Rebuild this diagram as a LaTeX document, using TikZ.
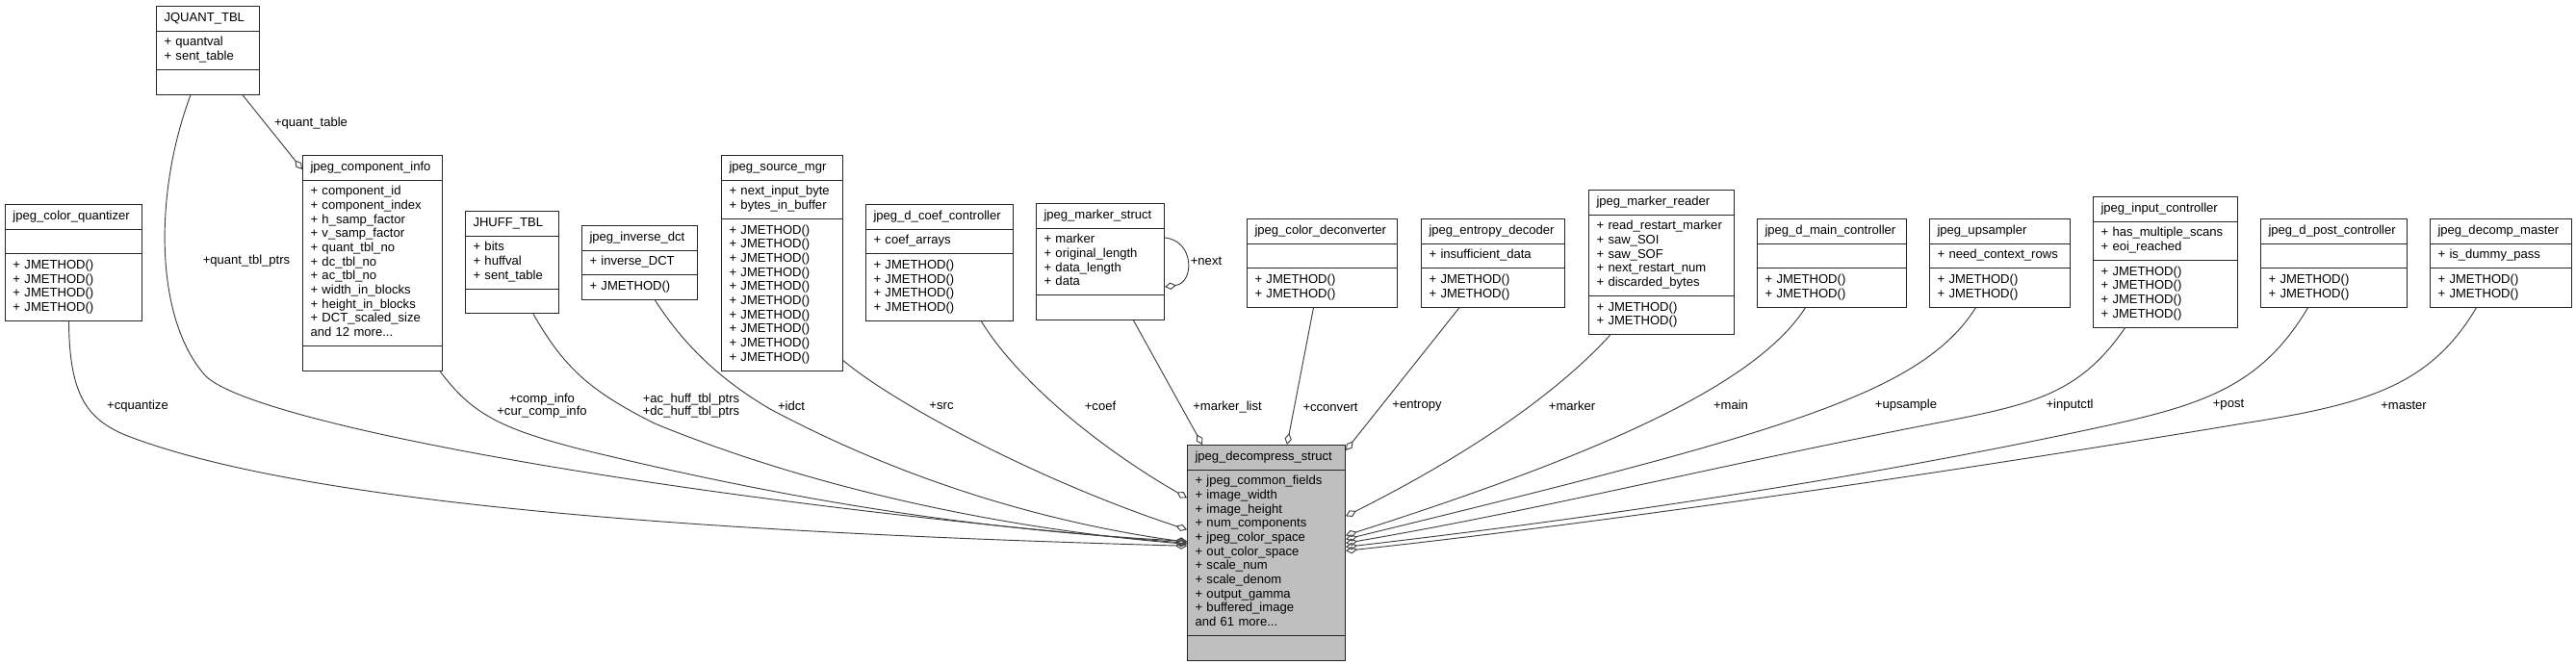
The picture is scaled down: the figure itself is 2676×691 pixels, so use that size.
\documentclass[tikz,border=0pt]{standalone}
\usepackage{fontspec}
\newfontfamily\dxfont{Liberation Sans}
\usepackage{tikz}
\usetikzlibrary{shapes,arrows.meta,calc}
\definecolor{clsgray}{RGB}{191,191,191}
\definecolor{edgegray}{RGB}{64,64,64}
\newcommand{\ctitle}[1]{\centering\strut #1\strut}
\newcommand{\crows}[1]{\strut #1\strut}
\newcommand{\jm}{+ JMETHOD()}

\begin{document}
\begin{tikzpicture}[
    % GLOBAL CFG
    x=0.75pt, y=-0.75pt,
    font=\dxfont\fontsize{9.8}{11}\selectfont,
    % Styles
    cls/.style={% For the class boxes
        rectangle split,
        rectangle split parts=3,
        draw=black!85,
        line width=.75pt,
        fill=white,
        inner xsep=6pt,
        inner ysep=3.75pt,
        align=left,
        anchor=north west,
        },
    agg/.style={% For the member links, diamond at the owner
        draw=edgegray,
        line width=.7pt,
        -{Diamond[open,length=9pt,width=5.5pt]},
        },
    mylabel/.style={% For the member names
        inner sep=0pt,
        align=center,
        font=\dxfont\fontsize{9.8}{10}\selectfont,
        },
    ]

    \fill [white] (0,0) rectangle (2676,691);
    \useasboundingbox (0,0) rectangle (2676,691);

    % Draw the classes, left to right
    \node [cls, text width=94.5pt] (cquant) at (5,212)
        {\ctitle{jpeg\_color\_quantizer}
        \nodepart{two}\strut
        \nodepart{three}\crows{\jm\\\jm\\\jm\\\jm}};
    \node [cls, text width=68.25pt] (quanttbl) at (162,6)
        {\ctitle{JQUANT\_TBL}
        \nodepart{two}\crows{+ quantval\\+ sent\_table}
        \nodepart{three}\strut};
    \node [cls, text width=96.75pt] (compinfo) at (314,161)
        {\ctitle{jpeg\_component\_info}
        \nodepart{two}\crows{+ component\_id\\+ component\_index\\+ h\_samp\_factor\\+ v\_samp\_factor\\+ quant\_tbl\_no\\+ dc\_tbl\_no\\+ ac\_tbl\_no\\+ width\_in\_blocks\\+ height\_in\_blocks\\+ DCT\_scaled\_size\\and 12 more...}
        \nodepart{three}\strut};
    \node [cls, text width=60.75pt] (hufftbl) at (483,219)
        {\ctitle{JHUFF\_TBL}
        \nodepart{two}\crows{+ bits\\+ huffval\\+ sent\_table}
        \nodepart{three}\strut};
    \node [cls, text width=78pt] (idctbox) at (604,234)
        {\ctitle{jpeg\_inverse\_dct}
        \nodepart{two}\crows{+ inverse\_DCT}
        \nodepart{three}\crows{\jm}};
    \node [cls, text width=82.5pt] (srcmgr) at (749,161)
        {\ctitle{jpeg\_source\_mgr}
        \nodepart{two}\crows{+ next\_input\_byte\\+ bytes\_in\_buffer}
        \nodepart{three}\crows{\jm\\\jm\\\jm\\\jm\\\jm\\\jm\\\jm\\\jm\\\jm\\\jm}};
    \node [cls, text width=102.75pt] (coefctl) at (899,212)
        {\ctitle{jpeg\_d\_coef\_controller}
        \nodepart{two}\crows{+ coef\_arrays}
        \nodepart{three}\crows{\jm\\\jm\\\jm\\\jm}};
    \node [cls, text width=87.75pt] (markstr) at (1076,211)
        {\ctitle{jpeg\_marker\_struct}
        \nodepart{two}\crows{+ marker\\+ original\_length\\+ data\_length\\+ data}
        \nodepart{three}\strut};
    \node [cls, text width=105pt] (deconv) at (1295,227)
        {\ctitle{jpeg\_color\_deconverter}
        \nodepart{two}\strut
        \nodepart{three}\crows{\jm\\\jm}};
    \node [cls, text width=99.75pt] (entropy) at (1476,227)
        {\ctitle{jpeg\_entropy\_decoder}
        \nodepart{two}\crows{+ insufficient\_data}
        \nodepart{three}\crows{\jm\\\jm}};
    \node [cls, text width=101.25pt] (markrdr) at (1650,197)
        {\ctitle{jpeg\_marker\_reader}
        \nodepart{two}\crows{+ read\_restart\_marker\\+ saw\_SOI\\+ saw\_SOF\\+ next\_restart\_num\\+ discarded\_bytes}
        \nodepart{three}\crows{\jm\\\jm}};
    \node [cls, text width=104.25pt] (mainctl) at (1825,227)
        {\ctitle{jpeg\_d\_main\_controller}
        \nodepart{two}\strut
        \nodepart{three}\crows{\jm\\\jm}};
    \node [cls, text width=97.5pt] (upsamp) at (2004,227)
        {\ctitle{jpeg\_upsampler}
        \nodepart{two}\crows{+ need\_context\_rows}
        \nodepart{three}\crows{\jm\\\jm}};
    \node [cls, text width=100.5pt] (inputctl) at (2174,204)
        {\ctitle{jpeg\_input\_controller}
        \nodepart{two}\crows{+ has\_multiple\_scans\\+ eoi\_reached}
        \nodepart{three}\crows{\jm\\\jm\\\jm\\\jm}};
    \node [cls, text width=102pt] (postctl) at (2348,227)
        {\ctitle{jpeg\_d\_post\_controller}
        \nodepart{two}\strut
        \nodepart{three}\crows{\jm\\\jm}};
    \node [cls, text width=98.25pt] (master) at (2524,227)
        {\ctitle{jpeg\_decomp\_master}
        \nodepart{two}\crows{+ is\_dummy\_pass}
        \nodepart{three}\crows{\jm\\\jm}};

    % The struct that owns them all
    \node [cls, fill=clsgray, text width=111pt] (decomp) at (1233,462)
        {\ctitle{jpeg\_decompress\_struct}
        \nodepart{two}\crows{+ jpeg\_common\_fields\\+ image\_width\\+ image\_height\\+ num\_components\\+ jpeg\_color\_space\\+ out\_color\_space\\+ scale\_num\\+ scale\_denom\\+ output\_gamma\\+ buffered\_image\\and 61 more...}
        \nodepart{three}\strut};

    % Links into the left side
    \draw [agg] ($(cquant.south)+(-5,0)$) .. controls (72,410) and (90,435) .. (130,452)
        .. controls (330,530) and (800,555) .. ($(decomp.west)+(0,-7)$);
    \draw [agg] ($(quanttbl.south)+(-18,0)$) .. controls (160,200) and (160,330) .. (213,390)
        .. controls (260,440) and (700,520) .. ($(decomp.west)+(0,-10)$);
    \draw [agg] ($(compinfo.south east)+(-3,0)$) .. controls (490,430) and (520,445) .. (600,466)
        .. controls (800,515) and (1000,550) .. ($(decomp.west)+(0,-12)$);
    \draw [agg] ($(hufftbl.south)+(22,0)$) .. controls (585,380) and (610,405) .. (680,440)
        .. controls (850,510) and (1050,550) .. ($(decomp.west)+(0,-9)$);
    \draw [agg] ($(idctbox.south)+(16,0)$) .. controls (705,350) and (740,390) .. (800,425)
        .. controls (950,505) and (1100,545) .. ($(decomp.west)+(0,-11)$);
    \draw [agg] ($(srcmgr.south east)+(0,-11)$) .. controls (930,420) and (1080,500) .. ($(decomp.west)+(0,-24)$);
    \draw [agg] ($(coefctl.south)+(43.5,0)$) .. controls (1060,400) and (1150,470) .. ($(decomp.west)+(0,-57)$);

    % Links into the top
    \draw [agg] ($(markstr.south)+(34.5,0)$) -- ($(decomp.north west)+(16,0)$);
    \draw [agg] ($(deconv.south)+(-9,0)$) -- ($(decomp.north west)+(104,0)$);
    \draw [agg] ($(entropy.south)+(-35,0)$) -- ($(decomp.north east)+(0,6)$);

    % Links into the right side
    \draw [agg] ($(markrdr.south)+(-53.5,0)$) .. controls (1630,395) and (1550,460) .. ($(decomp.east)+(0,-38)$);
    \draw [agg] ($(mainctl.south)+(-27.5,0)$) .. controls (1830,390) and (1700,460) .. ($(decomp.east)+(0,-18)$);
    \draw [agg] ($(upsamp.south)+(-25,0)$) .. controls (1995,410) and (1850,450) .. ($(decomp.east)+(0,-14)$);
    \draw [agg] ($(inputctl.south)+(-42,0)$) .. controls (2160,410) and (2110,420) .. (2020,438)
        .. controls (1800,480) and (1600,530) .. ($(decomp.east)+(0,-10)$);
    \draw [agg] ($(postctl.south)+(-27,0)$) .. controls (2350,400) and (2290,420) .. (2190,442)
        .. controls (1900,505) and (1600,545) .. ($(decomp.east)+(0,-6)$);
    \draw [agg] ($(master.south)+(-25.5,0)$) .. controls (2525,400) and (2460,420) .. (2330,440)
        .. controls (2000,495) and (1650,545) .. ($(decomp.east)+(0,-2)$);

    % Links between the others
    \draw [agg] ($(quanttbl.south east)+(-18,0)$) -- ($(compinfo.north west)+(0,15)$);
    \draw [agg] ($(markstr.north east)+(0,36)$) .. controls (1241,250) and (1241,294) .. ($(markstr.north east)+(0,87)$);

    % Member names
    \node [mylabel] (l-qtable) at (323,128) {+quant\_table};
    \node [mylabel] (l-qptrs) at (256,271) {+quant\_tbl\_ptrs};
    \node [mylabel] (l-next) at (1253,271) {+next};
    \node [mylabel] (l-cquant) at (143,422) {+cquantize};
    \node [mylabel] (l-comp) at (563,421.5) {+comp\_info\\+cur\_comp\_info};
    \node [mylabel] (l-huff) at (718,421.5) {+ac\_huff\_tbl\_ptrs\\+dc\_huff\_tbl\_ptrs};
    \node [mylabel] (l-idct) at (822,422) {+idct};
    \node [mylabel] (l-src) at (978,422) {+src};
    \node [mylabel] (l-coef) at (1143,422) {+coef};
    \node [mylabel] (l-mlist) at (1275,423) {+marker\_list};
    \node [mylabel] (l-cconv) at (1382,423) {+cconvert};
    \node [mylabel] (l-entropy) at (1472,422) {+entropy};
    \node [mylabel] (l-marker) at (1633,422) {+marker};
    \node [mylabel] (l-main) at (1798,421) {+main};
    \node [mylabel] (l-upsamp) at (1980,421) {+upsample};
    \node [mylabel] (l-inputctl) at (2150,421) {+inputctl};
    \node [mylabel] (l-post) at (2315,421) {+post};
    \node [mylabel] (l-master) at (2497,421) {+master};

\end{tikzpicture}
\end{document}
